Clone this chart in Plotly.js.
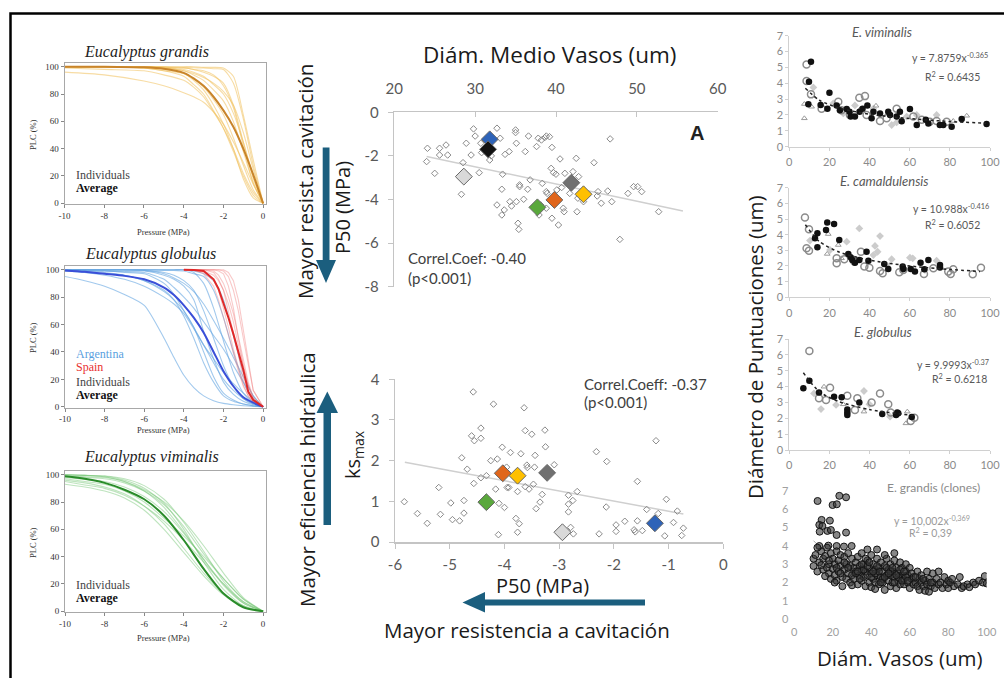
<!DOCTYPE html>
<html><head><meta charset="utf-8">
<script src="https://cdn.plot.ly/plotly-3.0.1.min.js"></script>
<style>html,body{margin:0;padding:0;background:#fff}#g{width:1004px;height:678px}</style>
</head><body><div id="g"></div>
<script>
// ---------- DATA ----------
// PLC curves, Eucalyptus grandis
const grandisX = [-10,-8,-6,-5,-4,-3.5,-3,-2.5,-2,-1.5,-1,-0.5,0];
const grandisAvg = [100,100,99.5,98.5,95.5,91.5,86,78,68,56,40,21,0];
const grandisInd = [
  [96,94,89.5,86,81,78,74,67,58,45,30,14,0],
  [100,100,100,100,99.5,99.2,99,98.5,98,88,62,28,0],
  [100,100,100,99.5,99,98,96,93,88,72,45,18,0],
  [100,100,99.5,99,97,94,90,83,75,60,38,15,0],
  [100,100,99,97,95,91,85,76,65,48,28,10,0],
  [100,100,99,97,93,87,80,68,55,38,20,6,0],
  [99,98,97,94,90,85,78,67,55,40,22,8,0],
  [100,100,100,99.5,99,98,97,94,86,70,42,15,0],
  [100,100,100,100,100,100,99.5,99.5,99,93,65,32,0],
  [100,100,99.5,99,98,96,93,87,80,66,45,20,0],
  [100,100,99.8,99,97,95,92,88,82,72,52,25,0],
  [100,100,99,98,95,90,83,72,58,40,18,4,0]
];
// Eucalyptus globulus - Argentina (blue)
const argX = [-10,-9,-8,-7,-6,-5,-4.5,-4,-3.5,-3,-2.5,-2,-1.5,-1,-0.5,0];
const argAvg = [99.5,98.5,97,95.5,93,87,81.5,74,65,54,40,26,15,7,3,0];
const argInd = [
  [95,92,88,82,74,50,36,23,14,8,4.5,2.5,1.5,0.8,0.3,0],
  [99,98,96,93,88,80,75,68,57,45,32,20,12,6,2,0],
  [100,99,98,96,92,84,78,70,58,40,22,10,5,2,0.8,0],
  [100,100,99.5,99,99,96,93,88,78,55,35,18,9,4,1.5,0],
  [100,100,100,100,100,99.5,99.5,99,97,95,85,65,40,18,5,0],
  [100,100,100,100,100,100,100,100,98,90,72,48,25,10,3,0],
  [100,100,100,99.8,99.5,97,94,90,84,75,63,50,36,22,8,0],
  [100,99.5,99,98.5,98,93,87,80,72,62,52,42,30,18,6,0],
  [99,98,97,96,92,85,78,66,50,32,18,8,4,2,0.8,0],
  [100,100,100,100,100,100,100,100,99,97,92,78,52,25,8,0],
  [100,99.5,99,98,97,90,82,70,58,45,35,25,17,10,4,0],
  [100,100,100,100,99.5,98,96,92,85,70,50,30,15,6,2,0]
];
// Eucalyptus globulus - Spain (red)
const spainX = [-4,-3.5,-3,-2.5,-2.25,-2,-1.75,-1.5,-1.25,-1,-0.75,-0.5,0];
const spainAvg = [100,99.8,99,93,86,76,65,53,40,27,11,5,0];
const spainInd = [
  [100,100,100,98,93,85,70,55,38,20,10,5,0],
  [100,100,100,100,99,97,88,72,50,30,15,6,0],
  [100,100,100,100,100,100,98,92,78,55,32,12,0],
  [100,100,97,88,78,65,52,38,26,15,8,4,0],
  [100,100,99,96,92,85,75,62,45,30,16,6,0],
  [100,100,100,100,100,99,95,85,70,50,30,12,0],
  [100,100,98,92,85,72,58,42,28,16,8,3,0],
  [100,100,100,99,96,90,80,68,52,35,18,7,0]
];
// Eucalyptus viminalis (green)
const vimX = [-10,-9,-8,-7,-6,-5,-4,-3,-2,-1,0];
const vimAvg = [98.8,97,94,89,82,70,52,31,13,3,0];
const vimInd = [
  [93,91,88,83,74,60,43,26,12,3,0],
  [96,94,91,86,77,64,46,28,13,4,0],
  [99,98.5,98,95,88,76,58,38,19,6,0],
  [100,99.5,99,97,92,82,65,44,22,7,0],
  [99,98,97,94,88,78,62,42,24,9,0],
  [97,95,93,88,80,68,55,40,24,9,0],
  [100,99.5,99,96,90,79,60,36,16,4,0],
  [98,96.5,95,91,84,73,57,38,20,7,0],
  [95,92.5,90,85,77,66,52,36,20,6,0],
  [100,99.5,98.5,95,89,80,66,48,28,10,0]
];
const plcXTicks = [-10,-8,-6,-4,-2,0];
const plcYTicks = [0,20,40,60,80,100];

// Panel A: vessel diameter vs P50
const diamA = [24.0,24.1,25.0,25.6,25.6,26.4,26.6,28.3,28.5,28.9,29.5,29.8,30.0,30.5,30.7,30.8,31.8,32.0,32.7,32.7,33.1,33.3,33.3,33.4,33.6,33.7,34.2,34.3,34.5,35.0,35.0,35.1,35.1,35.3,35.4,35.5,35.5,36.0,36.2,36.5,36.6,36.8,37.6,37.8,38.2,38.3,38.6,38.8,39.2,39.5,38.8,38.9,37.9,38.1,38.8,39.5,39.4,39.7,40.0,40.3,40.5,40.1,40.7,40.9,41.0,41.1,41.7,42.1,42.5,42.8,42.6,42.7,43.4,43.8,44.7,45.1,45.2,45.6,46.4,46.7,46.9,47.9,48.9,49.6,50.1,50.6,52.7];
const p50A = [-2.26,-1.65,-2.8,-1.65,-1.96,-1.5,-1.96,-3.76,-2.31,-1.42,-1.96,-0.76,-1.09,-2.77,-1.42,-1.85,-2.19,-2.0,-4.25,-0.73,-1.19,-3.53,-4.71,-2.84,-4.48,-1.93,-1.8,-4.1,-4.3,-0.81,-0.93,-1.42,-4.1,-5.09,-5.37,-3.33,-3.41,-3.99,-1.8,-3.53,-1.09,-3.1,-1.57,-1.19,-1.27,-3.26,-1.16,-1.09,-1.12,-1.61,-3.64,-3.72,-4.71,-4.25,-4.4,-4.86,-2.57,-2.77,-2.84,-5.17,-2.14,-3.56,-3.45,-4.4,-4.56,-2.8,-3.72,-2.72,-2.11,-2.95,-4.56,-3.94,-4.1,-3.79,-2.31,-3.84,-3.64,-4.17,-3.61,-1.22,-4.1,-5.83,-3.72,-3.41,-3.41,-3.64,-4.56];
const bigDiamA = [31.8,31.6,28.6,37.7,39.8,41.9,43.4];
const bigP50A = [-1.24,-1.70,-2.95,-4.36,-4.02,-3.23,-3.76];
const bigColorsA = ['#2e63b8','#111111','#d9d9d9','#5aa83c','#e0661c','#707070','#ffc000'];
const trendAx = [24.0,55.7];
const trendAy = [-2.03,-4.53];
const ticksA_x = [20,30,40,50,60];
const ticksA_y = [0,-2,-4,-6,-8];

// Panel B: P50 vs ks max
const p50B = [-5.83,-5.59,-5.41,-5.20,-5.17,-4.98,-4.95,-4.82,-4.78,-4.74,-4.74,-4.68,-4.60,-4.57,-4.55,-4.56,-4.43,-4.43,-4.43,-4.33,-4.25,-4.20,-4.16,-4.13,-4.11,-4.10,-4.04,-4.00,-3.96,-3.95,-3.92,-3.89,-3.79,-3.76,-3.76,-3.73,-3.70,-3.64,-3.62,-3.62,-3.59,-3.58,-3.55,-3.50,-3.47,-3.45,-3.44,-3.42,-3.35,-3.31,-3.26,-3.25,-3.09,-2.83,-2.83,-2.83,-2.79,-2.75,-2.74,-2.67,-2.32,-2.27,-2.14,-2.13,-1.96,-1.96,-1.80,-1.63,-1.61,-1.57,-1.57,-1.48,-1.40,-1.23,-1.19,-1.07,-1.04,-0.91,-0.84,-0.76,-0.73];
const ksB = [0.99,0.70,0.46,1.34,0.68,0.96,0.55,0.52,2.07,1.02,0.71,1.79,2.61,3.69,2.49,1.44,2.80,2.55,1.58,1.63,2.0,3.39,1.30,2.04,0.18,0.95,2.33,0.85,1.84,1.34,1.34,2.20,0.58,1.24,0.24,0.45,2.17,3.30,2.74,1.36,1.89,1.83,1.30,2.65,1.42,1.84,2.13,0.82,0.98,1.17,2.75,2.34,1.90,1.15,0.93,0.74,0.36,1.02,0.20,1.24,2.22,0.20,0.86,1.98,0.42,0.26,0.51,0.30,0.25,0.52,1.49,0.28,0.80,2.49,0.70,0.15,1.05,0.48,0.76,0.16,0.34];
const bigP50B = [-4.03,-3.76,-3.22,-4.33,-2.94,-1.25];
const bigKsB = [1.69,1.63,1.70,0.98,0.24,0.46];
const bigColorsB = ['#e0661c','#ffc000','#707070','#5aa83c','#d9d9d9','#2e63b8'];
const trendBx = [-5.82,-0.73];
const trendBy = [1.96,0.69];
const ticksB_x = [-6,-5,-4,-3,-2,-1,0];
const ticksB_y = [0,1,2,3,4];

// Right panels: vessel diameter vs pit diameter
const vimBlackX = [10.8,9.8,9.5,20,15.6,19,23.6,28.6,30,30.6,32.7,38.9,36.5,41,41.9,45.2,49.3,50.2,53.5,55.1,56,60.1,63.5,69.3,75,76.7,80.9,85.9,98.3,35,25.2,68];
const vimBlackY = [5.36,4.1,2.67,3.4,2.63,2.4,2.6,2.37,2.2,1.9,1.9,2.6,2.4,1.8,2.2,2.1,2.2,2.0,1.9,2.2,1.6,2.37,1.37,1.47,1.37,1.37,1.26,1.74,1.43,2.2,2.3,1.7];
const vimOpenX = [8.6,8.6,10.8,16.1,24.4,26,34.9,37.7,30.2,38.5,45.2,48.5,53.5,61.8,66,70,73.4,78.4];
const vimOpenY = [5.19,4.14,3.3,2.4,2.84,2.3,3.09,3.19,2.0,2.0,1.62,1.8,2.4,1.9,1.7,1.58,1.62,1.58];
const vimDiaX = [12,32.7,41.9,51,53.5,58.5,63.5,73.4,21.9,26.9];
const vimDiaY = [3.74,2.6,2.4,1.37,1.53,1.9,2.0,2.0,2.73,2.1];
const vimTriX = [7.5,7.5,43.2,81.7,88.4,11.1,35.2];
const vimTriY = [1.79,2.69,2.58,1.62,1.95,2.52,2.35];
const vimFitX = [8,15,25,40,60,80,98];
const vimFitY = [3.69,2.93,2.43,2.05,1.77,1.59,1.48];

const camBlackX = [18.3,18.9,22.3,14,12.8,14,24.9,29.4,30.6,31.4,32.7,34.9,38.5,39.4,47.3,49.3,56.5,56.8,60.5,62.6,65.4,67.3,69.3,75.1,75.1];
const camBlackY = [4.3,4.77,4.68,4.09,3.77,3.19,3.66,2.77,2.55,2.38,2.21,2.38,2.91,2.34,2.13,1.81,1.96,1.81,1.81,1.64,2.21,1.79,2.38,2.06,1.91];
const camOpenX = [7.8,9.8,8.6,9.8,23.6,23.6,27.4,32.4,35.7,37.4,39.9,45.2,46.5,54.8,56.8,67.1,71.8,79.2,80.4,81.7,91.4,95.5];
const camOpenY = [5.1,4.34,3.13,2.98,2.49,2.17,2.43,2.28,2.91,1.96,1.89,1.68,1.53,1.6,1.74,1.49,1.85,1.64,1.49,1.79,1.47,1.89];
const camDiaX = [34.9,45.2,42.7,44,28.6,20.3,51,60.1,61.5,67.6,73.4,41.9,48.5,10.3];
const camDiaY = [4.4,3.91,3.28,2.91,3.55,3.02,2.43,2.53,2.49,1.74,2.34,2.7,2.06,3.62];
const camTriX = [19.4,18.9,24.4,26];
const camTriY = [4.04,2.77,3.34,2.49];
const camFitX = [8,15,25,40,60,80,95];
const camFitY = [4.63,3.56,2.88,2.37,2.0,1.78,1.65];

const gloBlackX = [7,10,14.8,22.3,26.1,28.9,28.9,28.9,34.9,46.3,53.2,53.8,54.3,61];
const gloBlackY = [3.89,4.37,3.63,3.36,3.32,2.56,2.37,2.2,3.0,2.27,2.2,2.37,2.31,2.08];
const gloOpenX = [10,20.3,14.8,18.3,28.9,33.9,32.7,41,45.2,49.3,50.5,60.5,62.3];
const gloOpenY = [6.24,3.93,3.26,3.15,3.42,3.26,2.52,3.0,3.57,2.88,2.37,1.83,2.04];
const gloDiaX = [12.3,15.8,23.3,37.2,39.9,50.2];
const gloDiaY = [3.57,2.58,2.84,3.72,2.88,2.1];
const gloTriX = [17.3,26.9,37.2,58.8,58.1];
const gloTriY = [3.99,2.88,2.42,2.42,1.68];
const gloFitX = [7,15,25,40,62];
const gloFitY = [4.87,3.67,3.04,2.55,2.17];

const graX = [12.1,23.4,26.9,19.9,22.1,14.2,18.5,13,14.6,13.2,17.2,19,22,26.9,13,17.7,22,25.8,29.8,
 10,10,11,12,13,14,15,15,12,14, 16,17,17,18,18,19,19,20,20,16, 21,21,22,22,23,23,24,24,25,25,21,
 26,26,27,27,28,28,29,29,30,30,30, 31,31,32,32,33,33,34,34,35,35,35, 36,36,37,37,38,38,39,39,40,40,40,38,
 41,41,42,42,43,43,44,44,45,45,43,42, 46,46,47,47,48,48,49,49,50,50,50,47, 51,51,52,52,53,53,54,54,55,55,52,
 56,56,57,57,58,58,59,59,60,60, 61,61,62,62,63,64,64,65,65, 66,66,67,68,68,69,69,70,70,
 71,72,72,73,74,75,75,76,77,78,79,80,80, 81,82,83,85,86,87,88,90,91,93,94,96,98,99,100,
 32,34,36,38,40,42,44,46,48,50,52,54,56,58,37,39,41,43,45,47,49,51,53,55,57,59,26,28,24,22,18,33,35,63,67,71];
const graY = [6.44,6.72,6.64,6.22,6.26,5.41,5.37,5.14,5.08,4.77,4.81,4.86,4.59,4.72,3.99,4.01,3.99,3.96,3.99,
 3.3,2.9,3.5,2.6,3.1,3.7,2.7,3.3,3.9,2.95, 3.45,2.8,3.9,3.0,2.5,3.6,2.2,3.3,2.75,2.35, 3.0,2.4,3.7,2.1,3.2,2.6,2.9,3.5,2.3,1.8,2.0,
 3.4,2.7,2.2,3.0,3.6,2.5,2.0,2.9,3.3,2.4,1.85, 2.8,2.2,3.1,2.6,1.9,3.4,2.4,2.9,2.1,3.6,2.7, 2.3,3.0,2.6,1.8,3.2,2.4,2.8,2.0,3.5,2.5,1.75,3.8,
 2.2,3.0,2.7,2.0,3.3,2.4,1.9,2.8,2.3,3.1,3.8,1.65, 2.6,2.0,1.6,2.9,2.4,3.3,2.1,2.7,1.8,3.0,2.4,3.5, 2.6,2.0,3.2,2.3,1.7,2.8,2.1,2.5,3.1,1.9,3.6,
 2.4,2.8,1.9,2.2,2.6,3.0,2.0,2.4,1.7,2.8, 2.2,2.5,1.9,2.3,2.0,2.6,1.8,2.2,1.6, 2.0,2.4,1.8,2.1,1.55,1.9,2.6,1.5,2.2,
 1.8,2.0,2.5,1.7,2.2,2.6,1.9,2.0,1.7,2.3,1.9,2.1,1.7, 2.0,2.2,1.8,1.9,2.3,1.7,1.8,1.9,1.75,2.0,1.9,2.1,2.0,2.35,1.95,
 2.5,2.2,2.7,2.9,2.3,2.5,2.6,2.2,2.8,2.6,2.0,2.3,2.1,2.3,3.3,3.1,2.6,2.9,2.0,2.3,2.5,2.8,2.4,2.7,2.6,2.1,3.1,2.8,2.5,2.8,3.2,2.6,3.0,2.3,2.2,2.0];
const graFitX = [10,20,40,60,100];
const graFitY = [4.28,3.31,2.56,2.21,1.83];
const rightXTicks = [0,20,40,60,80,100];
const rightYTicks = [0,1,2,3,4,5,6,7];

// ---------- LAYOUT HELPERS ----------
const W = 1004, H = 678;
const fx = v => v / W;
const fy = v => 1 - v / H;
const dx = (a, b) => [fx(a), fx(b)];
const dy = (top, bot) => [fy(bot), fy(top)];
const SERIF = '"Liberation Serif", "Times New Roman", serif';
const CAL = 'Lato, "Liberation Sans", sans-serif';
const BIG = '"Open Sans", "Noto Sans", sans-serif';
const txt = arr => arr.map(v => String(v));

const traces = [];
function lines(xs, ys, ax, color, width, shape) {
  traces.push({x: xs, y: ys, xaxis: 'x' + ax, yaxis: 'y' + ax, mode: 'lines',
    line: {color: color, width: width, shape: shape || 'spline', smoothing: 0.7}, hoverinfo: 'skip'});
}
function pts(xs, ys, ax, marker) {
  traces.push({x: xs, y: ys, xaxis: 'x' + ax, yaxis: 'y' + ax, mode: 'markers', marker: marker, hoverinfo: 'skip'});
}

// PLC panels
grandisInd.forEach(c => lines(grandisX, c, '', 'rgba(240,192,90,0.55)', 1.1));
lines(grandisX, grandisAvg, '', '#c8842a', 2);
argInd.forEach(c => lines(argX, c, '2', 'rgba(100,165,225,0.6)', 1.1));
spainInd.forEach(c => lines(spainX, c, '2', 'rgba(240,120,120,0.4)', 1.1, 'linear'));
lines(argX, argAvg, '2', '#3a4fd8', 2);
lines(spainX, spainAvg, '2', '#e02828', 2, 'linear');
vimInd.forEach(c => lines(vimX, c, '3', 'rgba(110,195,110,0.45)', 1.1));
lines(vimX, vimAvg, '3', '#2a8c2a', 2);

// Panel A
lines(trendAx, trendAy, '4', '#cfcfcf', 1.5, 'linear');
pts(diamA, p50A, '4', {symbol: 'diamond-open', size: 5, color: '#8a8a8a', line: {width: 1}});
pts(bigDiamA, bigP50A, '4', {symbol: 'diamond', size: 13, color: bigColorsA, line: {color: '#666', width: 1}});
// Panel B
lines(trendBx, trendBy, '5', '#cfcfcf', 1.5, 'linear');
pts(p50B, ksB, '5', {symbol: 'diamond-open', size: 5, color: '#8a8a8a', line: {width: 1}});
pts(bigP50B, bigKsB, '5', {symbol: 'diamond', size: 13, color: bigColorsB, line: {color: '#666', width: 1}});

// right panels
function rightPanel(ax, bx, by, ox, oy, ddx, ddy, tx, ty, fitx, fity) {
  pts(ddx, ddy, ax, {symbol: 'diamond', size: 6, color: '#cccccc'});
  pts(tx, ty, ax, {symbol: 'triangle-up-open', size: 5, color: '#9a9a9a', line: {width: 1}});
  pts(ox, oy, ax, {symbol: 'circle-open', size: 7, color: '#8c8c8c', line: {width: 1.5}});
  pts(bx, by, ax, {symbol: 'circle', size: 6.5, color: '#111'});
  lines(fitx, fity, ax, '#222', 1.5, 'spline');
  traces[traces.length - 1].line.dash = 'dot';
}
rightPanel('6', vimBlackX, vimBlackY, vimOpenX, vimOpenY, vimDiaX, vimDiaY, vimTriX, vimTriY, vimFitX, vimFitY);
rightPanel('7', camBlackX, camBlackY, camOpenX, camOpenY, camDiaX, camDiaY, camTriX, camTriY, camFitX, camFitY);
rightPanel('8', gloBlackX, gloBlackY, gloOpenX, gloOpenY, gloDiaX, gloDiaY, gloTriX, gloTriY, gloFitX, gloFitY);
lines(graFitX, graFitY, '9', '#aaaaaa', 1, 'spline');
pts(graX, graY, '9', {symbol: 'circle', size: 7, color: 'rgba(55,55,55,0.6)', line: {color: '#151515', width: 1}});

// axes
const layout = {width: W, height: H, margin: {l: 0, r: 0, t: 0, b: 0}, showlegend: false,
  paper_bgcolor: '#fff', plot_bgcolor: 'rgba(0,0,0,0)', annotations: [], shapes: []};

function plcAxes(n, xd, yd) {
  const xs = n === 1 ? 'xaxis' : 'xaxis' + n, ys = n === 1 ? 'yaxis' : 'yaxis' + n;
  const an = n === 1 ? '' : String(n);
  layout[xs] = {domain: xd, anchor: 'y' + an, range: [-10, 0.12], tickvals: plcXTicks, ticktext: txt(plcXTicks), showgrid: false, zeroline: false,
    showline: true, mirror: true, linecolor: '#a8a8a8', linewidth: 1, ticks: 'outside', ticklen: 3, tickcolor: '#888',
    tickfont: {family: SERIF, size: 9, color: '#333'}, fixedrange: true};
  layout[ys] = {domain: yd, anchor: 'x' + an, range: [-0.5, 102.7], tickvals: plcYTicks, ticktext: txt(plcYTicks), showgrid: false, zeroline: false,
    showline: true, mirror: true, linecolor: '#a8a8a8', linewidth: 1, ticks: 'outside', ticklen: 3, tickcolor: '#888',
    tickfont: {family: SERIF, size: 9, color: '#333'}, fixedrange: true};
}
plcAxes(1, dx(64.5, 265.5), dy(63, 204));
plcAxes(2, dx(65, 265.5), dy(266, 407.5));
plcAxes(3, dx(65, 265.5), dy(471, 612));

const tickA = {family: CAL, size: 15, color: '#595959'};
layout.xaxis4 = {domain: dx(394.3, 717.7), anchor: 'y4', side: 'top', range: [20, 60], tickvals: ticksA_x, ticktext: txt(ticksA_x),
  showgrid: false, zeroline: false, showline: true, linecolor: '#c4c4c4', linewidth: 1.5, ticks: 'inside', ticklen: 5,
  tickcolor: '#c4c4c4', tickfont: tickA, ticklabelstandoff: 11};
layout.yaxis4 = {domain: dy(112.3, 286.7), anchor: 'x4', range: [-8, 0], tickvals: ticksA_y, ticktext: txt(ticksA_y),
  showgrid: false, zeroline: false, showline: true, linecolor: '#c4c4c4', linewidth: 1.5, ticks: 'outside', ticklen: 5,
  tickcolor: '#c4c4c4', tickfont: tickA, ticklabelstandoff: 6};
layout.xaxis5 = {domain: dx(395, 723.3), anchor: 'y5', range: [-6, 0], tickvals: ticksB_x, ticktext: txt(ticksB_x),
  showgrid: false, zeroline: false, showline: true, linecolor: '#c4c4c4', linewidth: 1.5, ticks: 'outside', ticklen: 5,
  tickcolor: '#c4c4c4', tickfont: tickA, ticklabelstandoff: 3};
layout.yaxis5 = {domain: dy(379.3, 542), anchor: 'x5', range: [0, 4], tickvals: ticksB_y, ticktext: txt(ticksB_y),
  showgrid: false, zeroline: false, showline: true, linecolor: '#c4c4c4', linewidth: 1.5, ticks: 'outside', ticklen: 5,
  tickcolor: '#c4c4c4', tickfont: tickA, ticklabelstandoff: 6};

function rightAxes(n, xd, yd, showLine) {
  const f = {family: CAL, size: 11, color: '#8a8a8a'};
  layout['xaxis' + n] = {domain: xd, anchor: 'y' + n, range: [0, 100], tickvals: rightXTicks, showgrid: false, zeroline: false,
    showline: showLine, linecolor: '#d0d0d0', linewidth: 1, ticks: showLine ? 'outside' : '', ticklen: 3, tickcolor: '#d0d0d0',
    tickfont: f, ticklabelstandoff: showLine ? 2 : 5};
  layout['yaxis' + n] = {domain: yd, anchor: 'x' + n, range: [0, 7], tickvals: rightYTicks, showgrid: false, zeroline: false,
    showline: showLine, linecolor: '#d0d0d0', linewidth: 1, ticks: showLine ? 'outside' : '', ticklen: 3, tickcolor: '#d0d0d0',
    tickfont: f, ticklabelstandoff: showLine ? 0 : 5};
}
rightAxes(6, dx(789.3, 990), dy(35.7, 146.7), true);
rightAxes(7, dx(789.3, 990), dy(187.7, 297.3), true);
rightAxes(8, dx(789.3, 990), dy(339, 450), true);
rightAxes(9, dx(794.3, 986.7), dy(490.7, 619.3), false);
layout.xaxis9.tickfont.color = '#a0a0a0';
layout.yaxis9.tickfont.color = '#a0a0a0';

// annotations
function ann(text, x, y, font, opt) {
  layout.annotations.push(Object.assign({text: text, x: fx(x), y: fy(y), xref: 'paper', yref: 'paper',
    showarrow: false, font: font, xanchor: 'center', yanchor: 'middle'}, opt || {}));
}
const titleF = {family: SERIF, size: 16, color: '#222'};
const smallSerif = {family: SERIF, size: 8.5, color: '#333'};
const legF = {family: SERIF, size: 12, color: '#444'};
ann('<i>Eucalyptus grandis</i>', 146, 52, titleF);
ann('PLC (%)', 33, 135, smallSerif, {textangle: -90});
ann('Pressure (MPa)', 163, 232, smallSerif);
ann('Individuals', 74, 175, legF, {xanchor: 'left'});
ann('<b>Average</b>', 74, 188, {family: SERIF, size: 12, color: '#111'}, {xanchor: 'left'});

ann('<i>Eucalyptus globulus</i>', 150, 254, titleF);
ann('PLC (%)', 33, 338, smallSerif, {textangle: -90});
ann('Pressure (MPa)', 163, 430, smallSerif);
ann('Argentina', 74, 354, {family: SERIF, size: 12, color: '#5a9fe0'}, {xanchor: 'left'});
ann('Spain', 74, 367, {family: SERIF, size: 12, color: '#e83030'}, {xanchor: 'left'});
ann('Individuals', 74, 382, legF, {xanchor: 'left'});
ann('<b>Average</b>', 74, 395, {family: SERIF, size: 12, color: '#111'}, {xanchor: 'left'});

ann('<i>Eucalyptus viminalis</i>', 151, 457, titleF);
ann('PLC (%)', 33, 543, smallSerif, {textangle: -90});
ann('Pressure (MPa)', 163, 638, smallSerif);
ann('Individuals', 74, 585, legF, {xanchor: 'left'});
ann('<b>Average</b>', 74, 598, {family: SERIF, size: 12, color: '#111'}, {xanchor: 'left'});

const bigF = {family: BIG, size: 20, color: '#1a1a1a'};
const bigF2 = {family: BIG, size: 20.5, color: '#1a1a1a'};
ann('Diám. Medio Vasos (um)', 549, 55, {family: BIG, size: 22.5, color: '#1a1a1a'});
ann('<b>A</b>', 697, 133, {family: '"Liberation Sans", Arial, sans-serif', size: 20, color: '#222'});
ann('P50 (MPa)', 342, 208, bigF, {textangle: -90});
ann('Mayor resist.a cavitación', 305, 182, bigF2, {textangle: -90});
const corrF = {family: CAL, size: 15, color: '#404040'};
ann('Correl.Coef: -0.40', 406, 258, corrF, {xanchor: 'left'});
ann('(p<0.001)', 406, 278, corrF, {xanchor: 'left'});
ann('Correl.Coeff: -0.37', 582, 384, corrF, {xanchor: 'left'});
ann('(p<0.001)', 582, 402, corrF, {xanchor: 'left'});
ann('P50 (MPa)', 542, 585, bigF);
ann('ks<sub>max</sub>', 353, 455, bigF, {textangle: -90});
ann('Mayor eficiencia hidráulica', 307, 480, bigF2, {textangle: -90});
ann('Mayor resistencia a cavitación', 527, 630, bigF2);

const rtF = {family: CAL, size: 13, color: '#595959'};
const eqF = {family: CAL, size: 10.5, color: '#595959'};
ann('<i>E. viminalis</i>', 882, 32, rtF);
ann('y = 7.8759x<sup>-0.365</sup>', 990, 58, eqF, {xanchor: 'right'});
ann('R<sup>2</sup> = 0.6435', 982, 76, eqF, {xanchor: 'right'});
ann('<i>E. camaldulensis</i>', 884, 181, rtF);
ann('y = 10.988x<sup>-0.416</sup>', 991, 208, eqF, {xanchor: 'right'});
ann('R<sup>2</sup> = 0.6052', 982, 225, eqF, {xanchor: 'right'});
ann('<i>E. globulus</i>', 883, 332, rtF);
ann('y = 9.9993x<sup>-0.37</sup>', 991, 364, eqF, {xanchor: 'right'});
ann('R<sup>2</sup> = 0.6218', 989, 378, eqF, {xanchor: 'right'});
ann('E. grandis (clones)', 933, 487, {family: CAL, size: 12, color: '#8a8a8a'});
ann('y = 10,002x<sup>-0,369</sup>', 932, 520, {family: CAL, size: 10.5, color: '#9a9a9a'});
ann('R<sup>2</sup> = 0,39', 930, 532, {family: CAL, size: 10.5, color: '#9a9a9a'});
ann('Diámetro de Puntuaciones (um)', 755, 347, bigF2, {textangle: -90});
ann('Diám. Vasos (um)', 900, 658, bigF2);

// shapes: border + arrows
const AR = '#1b5e7e';
function pathPx(p) {
  return 'M ' + p.map(q => fx(q[0]) + ' ' + fy(q[1])).join(' L ') + ' Z';
}
layout.shapes.push({type: 'rect', xref: 'paper', yref: 'paper', x0: fx(10.5), x1: 1.05, y0: -0.05, y1: fy(13.5),
  line: {color: '#000', width: 2.5}, fillcolor: 'rgba(0,0,0,0)'});
layout.shapes.push({type: 'path', xref: 'paper', yref: 'paper', line: {width: 0}, fillcolor: AR,
  path: pathPx([[322.7, 147.5], [329.5, 147.5], [329.5, 260], [336, 260], [326, 283], [316, 260], [322.7, 260]])});
layout.shapes.push({type: 'path', xref: 'paper', yref: 'paper', line: {width: 0}, fillcolor: AR,
  path: pathPx([[323.5, 525], [331, 525], [331, 413], [338, 413], [327.3, 391.5], [316.5, 413], [323.5, 413]])});
layout.shapes.push({type: 'path', xref: 'paper', yref: 'paper', line: {width: 0}, fillcolor: AR,
  path: pathPx([[645, 599.5], [645, 605.5], [485, 605.5], [485, 612.5], [462.5, 602.5], [485, 592], [485, 599.5]])});

Plotly.newPlot('g', traces, layout, {displayModeBar: false, staticPlot: true});
</script></body></html>
